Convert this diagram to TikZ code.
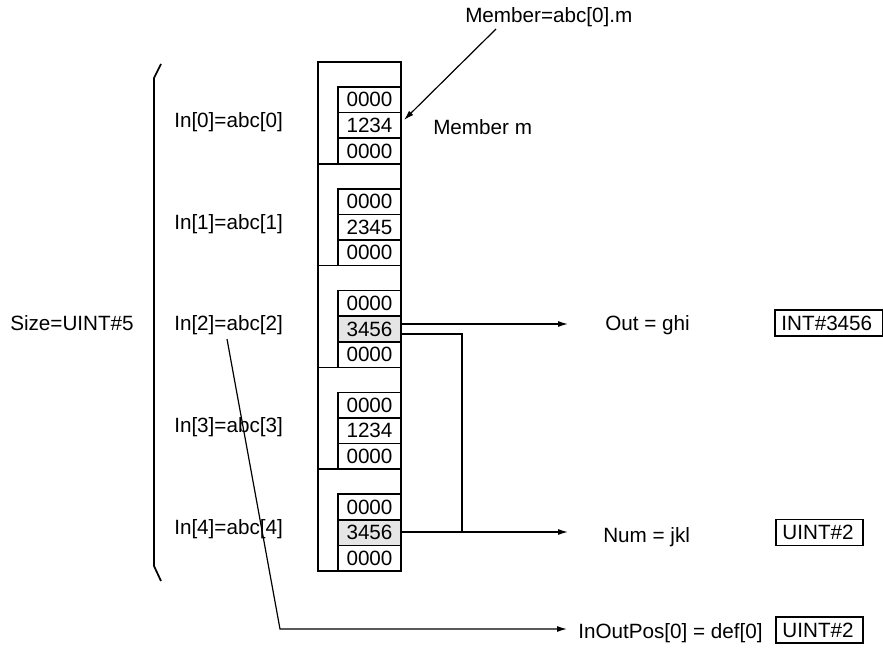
\documentclass[tikz,border=0pt]{standalone}
\usepackage{fontspec}
\setmainfont{Liberation Sans}
\usetikzlibrary{arrows.meta}

\tikzset{
  txt/.style={inner sep=0pt, font=\fontsize{15.5}{18}\selectfont},
  lbl/.style={txt, anchor=west},
  cell/.style={txt, draw, line width=1.2pt, minimum width=47.25pt, minimum height=19.2pt},
  colbox/.style={line width=1.3pt},
  valbox/.style={txt, draw, line width=1.2pt, anchor=west, inner xsep=5pt, inner ysep=0pt,
    text width=#1, minimum height=19.5pt, align=left},
  arr/.style={line width=0.9pt, -{Latex[length=7.5pt,width=4.5pt]}},
  wire/.style={line width=0.9pt}
}

\begin{document}
\begin{tikzpicture}[x=0.75pt,y=-0.75pt]

        \useasboundingbox (0,0) rectangle (883,648);

        % Array elements
        \foreach \v/\f [count=\k from 0] in {1234/white,2345/white,3456/gray!20,1234/white,3456/gray!20} {
          \pgfmathsetmacro\t{62+101.8*\k}
          \draw[colbox] (318,\t) rectangle (401,\t+101.8);
          \node[cell] (c\k-0) at (369.5,\t+37.8) {0000};
          \node[cell, fill=\f] (c\k-1) at (369.5,\t+63.4) {\v};
          \node[cell] (c\k-2) at (369.5,\t+89) {0000};
          \node[lbl] (in\k) at (174,\t+60) {In[\k]=abc[\k]};
        }

        % Size brace
        \draw[colbox] (161,64) -- (154,78) -- (154,566) -- (161,581);
        \node[lbl] (size) at (10,323) {Size=UINT\#5};

        % Member
        \node[lbl] (mem) at (465,17) {Member=abc[0].m};
        \node[lbl] (memm) at (433,127) {Member m};
        \coordinate (memfoot) at (496,29);
        \coordinate (memtip) at (404,120);
        \draw[arr] (memfoot) -- (memtip);

        % Out
        \coordinate (outtip) at (568,324);
        \draw[arr] (c2-1.east |- outtip) -- (outtip);
        \node[lbl] (out) at (605,325) {Out = ghi};
        \node[valbox=71pt] (outval) at (774,323) {INT\#3456};

        % Num
        \coordinate (join) at (462,334);
        \coordinate (numtip) at (568,532);
        \draw[wire] (c2-1.east |- join) -- (join) -- (join |- numtip);
        \draw[arr] (c4-1.east |- numtip) -- (numtip);
        \node[lbl] (num) at (603,537) {Num = jkl};
        \node[valbox=55.5pt] (numval) at (775,532.5) {UINT\#2};

        % InOutPos
        \coordinate (posstart) at (227,339);
        \coordinate (posbend) at (280,629);
        \coordinate (postip) at (567,629);
        \draw[arr] (posstart) -- (posbend) -- (postip);
        \node[lbl] (pos) at (578,633) {InOutPos[0] = def[0]};
        \node[valbox=55.5pt] (posval) at (775,630) {UINT\#2};

    \end{tikzpicture}
\end{document}
